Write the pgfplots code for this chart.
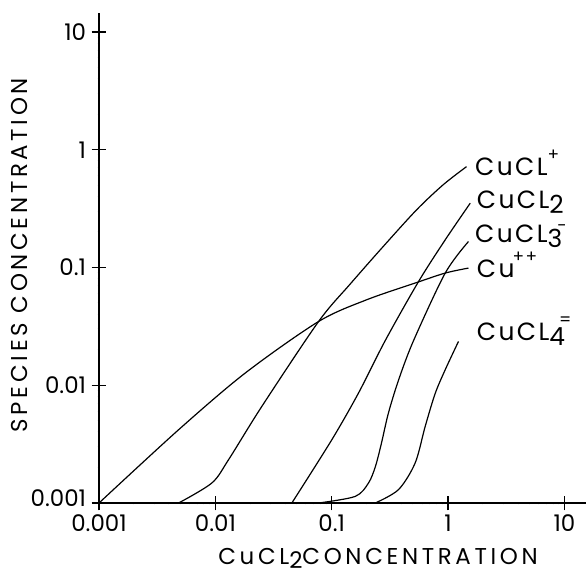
\documentclass[border=0pt]{standalone}
\usepackage{pgfplots}
\pgfplotsset{compat=1.18}
\usepackage{fontspec}
\setmainfont{Poppins}
\newfontfamily\lblfont[LetterSpace=10]{Poppins}
\newfontfamily\axfont[LetterSpace=16]{Poppins}

\newcommand{\lsub}[1]{\raisebox{-5bp}{#1}}
\newcommand{\lsup}[1]{\raisebox{15bp}{\fontsize{17}{17}\selectfont #1}}

\begin{document}
\begin{tikzpicture}
\begin{axis}[
  scale only axis,
  width=487bp, height=490bp,
  xmode=log, ymode=log,
  xmin=0.001, xmax=15.3,
  ymin=0.001, ymax=14.5,
  axis lines=left,
  axis line style={-, line width=1.8bp},
  tick align=center,
  major tick length=15bp,
  every tick/.style={line width=1.4bp, black},
  minor tick num=0,
  xtick={0.001,0.01,0.1,1,10},
  xticklabels={0.001,0.01,0.1,1,10},
  ytick={0.001,0.01,0.1,1,10},
  yticklabels={\raisebox{10bp}{0.001},0.01,0.1,1,10},
  tick label style={font=\fontsize{23}{26}\selectfont},
  xticklabel style={yshift=-1bp},
  yticklabel style={xshift=-2bp},
  clip=false,
]
% Cu++
\addplot[smooth, line width=1.2bp] coordinates {
  (0.001,0.001) (0.00483,0.00419) (0.01807,0.01271) (0.0771,0.0348)
  (0.1995,0.0532) (0.521,0.0738) (0.944,0.0897) (1.496,0.0989)
};
% CuCl+
\addplot[smooth, line width=1.2bp] coordinates {
  (0.00483,0.001) (0.00933,0.00148) (0.01297,0.00233) (0.02506,0.00661)
  (0.0771,0.0348) (0.1432,0.0719) (0.2767,0.1507) (0.536,0.309)
  (0.906,0.504) (1.439,0.719)
};
% CuCl2
\addplot[smooth, line width=1.2bp] coordinates {
  (0.0454,0.001) (0.1002,0.00345) (0.1698,0.00859)
  (0.2884,0.0240) (0.557,0.0760) (0.944,0.1718) (1.549,0.352)
};
% CuCl3-
\addplot[smooth, line width=1.2bp] coordinates {
  (0.0769,0.001) (0.1592,0.001138) (0.207,0.00148) (0.2371,0.00204)
  (0.2661,0.00316) (0.3069,0.00581) (0.3758,0.01114) (0.505,0.0240)
  (0.944,0.0897) (1.496,0.1663)
};
% CuCl4=
\addplot[smooth, line width=1.2bp] coordinates {
  (0.2366,0.001) (0.375,0.0013) (0.521,0.00219) (0.635,0.00447)
  (0.774,0.00851) (0.944,0.01355) (1.227,0.02355)
};

\begin{scope}[every node/.style={anchor=base west, inner sep=0pt, font=\lblfont\fontsize{25}{27}\selectfont}]
\node at (axis cs:1.698,0.607) {CuCL\lsup{+}};
\node at (axis cs:1.758,0.314) {CuCL\lsub{2}};
\node at (axis cs:1.698,0.1637) {CuCL\lsub{3}\kern-5bp\raisebox{11bp}{\fontsize{17}{17}\selectfont -}};
\node at (axis cs:1.758,0.0826) {Cu\kern-2bp\lsup{++}};
\node at (axis cs:1.758,0.0241) {CuCL\lsub{4}\kern-6bp\lsup{=}};
\end{scope}

\node[rotate=90, anchor=center, font=\axfont\fontsize{23}{25}\selectfont]
  at ([xshift=-80bp]rel axis cs:0,0.506) {SPECIES CONCENTRATION};
\node[anchor=base, font=\axfont\fontsize{23}{25}\selectfont]
  at ([yshift=-61bp]rel axis cs:0.573,0) {CuCL\raisebox{-4bp}{2}CONCENTRATION};
\end{axis}
\pgfresetboundingbox
\useasboundingbox ([shift={(-99bp,-73.7bp)}]current axis.south west) rectangle ([shift={(0bp,13bp)}]current axis.north east);
\end{tikzpicture}
\end{document}
